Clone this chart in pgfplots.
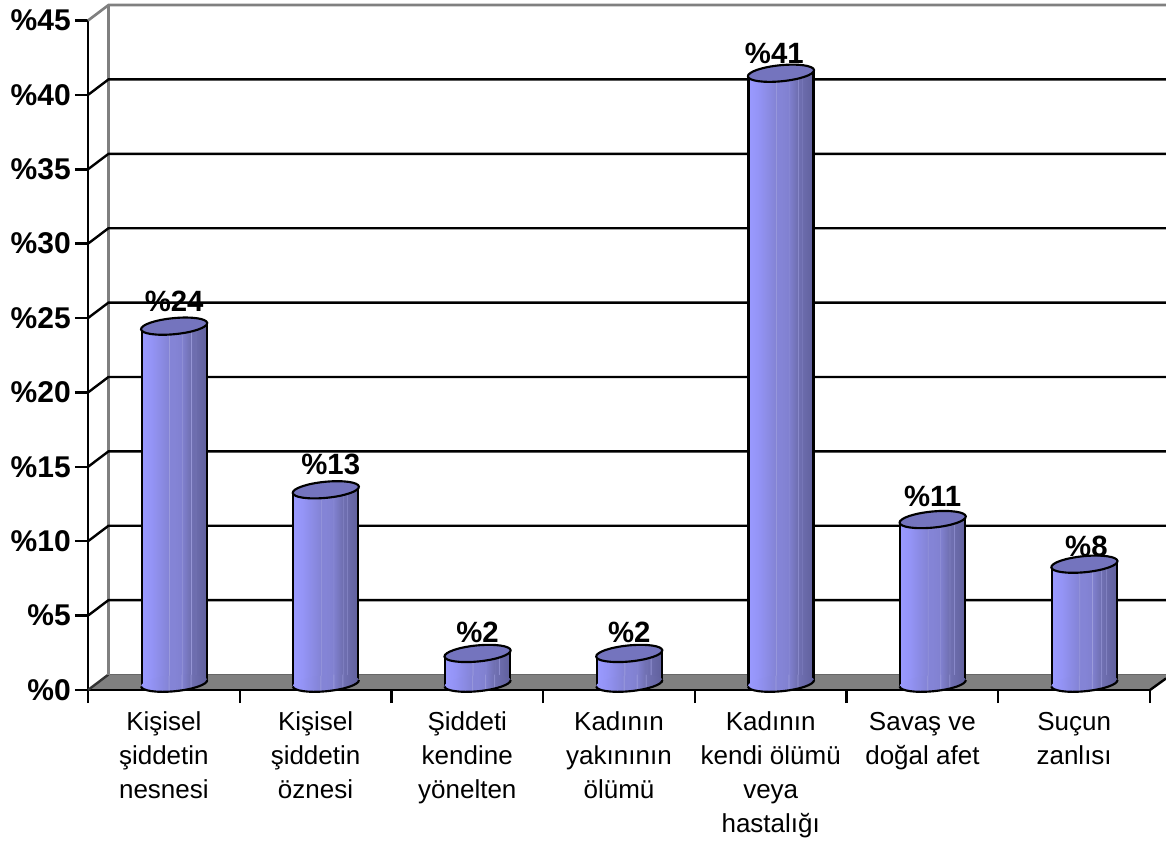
\documentclass[border=0pt]{standalone}
\usepackage{pgfplots}
\usepackage{pgfplotstable}
\usepackage{fontspec}
\setmainfont{Liberation Sans}
\pgfplotsset{compat=1.18}
\definecolor{cA}{HTML}{9A9AFF}
\definecolor{cB}{HTML}{9494F6}
\definecolor{cC}{HTML}{8484D6}
\definecolor{cD}{HTML}{7070B2}
\definecolor{cE}{HTML}{60609C}
\definecolor{cS}{HTML}{9C9CDC}
\definecolor{cap}{HTML}{7474BE}
\definecolor{floorgray}{HTML}{808080}
\pgfdeclarehorizontalshading{barL}{100bp}{color(0bp)=(cA);color(25bp)=(cA);color(40bp)=(cB);color(66bp)=(cC);color(67bp)=(cS);color(68bp)=(cC);color(75bp)=(cC);color(100bp)=(cC)}
\pgfdeclarehorizontalshading{barR}{100bp}{color(0bp)=(cC);color(25bp)=(cC);color(36bp)=(cC!85!cD);color(36.8bp)=(cS);color(37.6bp)=(cC!80!cD);color(50bp)=(cD);color(50.8bp)=(cS);color(51.6bp)=(cD);color(57bp)=(cD!75!cE);color(57.8bp)=(cS!70!cD);color(58.6bp)=(cD!70!cE);color(75bp)=(cE);color(100bp)=(cE)}
\pgfdeclarehorizontalshading{barF}{100bp}{color(0bp)=(cA);color(25bp)=(cA);color(32bp)=(cB);color(45.5bp)=(cC);color(46bp)=(cS);color(46.5bp)=(cC);color(50bp)=(cC);color(55bp)=(cC!85!cD);color(55.5bp)=(cS);color(56bp)=(cC!80!cD);color(62bp)=(cD);color(62.5bp)=(cS);color(63bp)=(cD);color(75bp)=(cE);color(100bp)=(cE)}
\pgfdeclareplotmark{cyltop}{%
  \pgfsetlinewidth{1.6pt}\pgfsetstrokecolor{black}\pgfsetfillcolor{cap}%
  \pgfpathellipse{\pgfpointorigin}{\pgfpoint{24.8pt}{2.4pt}}{\pgfpoint{-0.6pt}{6pt}}%
  \pgfusepath{fill,stroke}}
\pgfdeclareplotmark{cylbottom}{%
  \pgfsetlinewidth{1.6pt}\pgfsetstrokecolor{black}%
  \begin{pgfscope}%
  \pgfpathellipse{\pgfpointorigin}{\pgfpoint{24.8pt}{2.4pt}}{\pgfpoint{-0.6pt}{6pt}}%
  \pgfshadepath{barF}{0}\pgfusepath{discard}%
  \end{pgfscope}%
  \pgfpathmoveto{\pgfpoint{-24.8pt}{-2.4pt}}%
  \pgfpatharcaxes{180}{360}{\pgfpoint{24.8pt}{2.4pt}}{\pgfpoint{-0.6pt}{6pt}}%
  \pgfusepath{stroke}}
\pgfplotstableread{
x y z
0.5 24 0
1.5 13 0
2.5 2 0
3.5 2 0
4.5 41 0
5.5 11 0
6.5 8 0
}\bars
\begin{document}
\begin{tikzpicture}
\path[use as bounding box] (-66pt,-114pt) rectangle ++(874.5pt,631.5pt);
\begin{axis}[
  at={(0,0)},anchor=south west,
  scale only axis,width=796.5pt,height=502.1pt,
  xmin=0,xmax=7,ymin=0,ymax=45,clip=false,
  axis x line=bottom,axis y line=left,
  axis line style={-,line width=1.8pt,black},
  tick style={line width=1.8pt,black},
  tick align=outside,major tick length=9.75pt,
  xtick={0,1,2,3,4,5,6,7},
  x tick label as interval=true,
  xticklabels={{Kişisel\\şiddetin\\nesnesi},{Kişisel\\şiddetin\\öznesi},{Şiddeti\\kendine\\yönelten},{Kadının\\yakınının\\ölümü},{Kadının\\kendi ölümü\\veya\\hastalığı},{Savaş ve\\doğal afet},{Suçun\\zanlısı}},
  x tick label style={align=center,anchor=north,font=\fontsize{19.5}{25.5}\selectfont,yshift=-3.3pt},
  ytick={0,5,10,15,20,25,30,35,40,45},
  yticklabels={\%0,\%5,\%10,\%15,\%20,\%25,\%30,\%35,\%40,\%45},
  y tick label style={font=\fontsize{22.5}{26}\selectfont\bfseries,inner sep=0pt,xshift=-3pt},
]
% floor
\addplot[fill=floorgray,draw=none,forget plot] coordinates {(0,0)(0.135,1.04)(7.106,1.04)(7.106,0.78)(7,0)} -- cycle;
\addplot[floorgray!80!black,line width=1.2pt,forget plot] coordinates {(0.135,1.04)(7.106,1.04)};
\addplot[black,line width=2pt,forget plot] coordinates {(0,0)(7,0)};
\addplot[black,line width=1.8pt,forget plot] coordinates {(7,0)(7.106,0.78)};
\addplot[black!80,line width=1.8pt,forget plot] coordinates {(0,0)(0.135,1.04)};
% back wall
\addplot[floorgray,line width=2pt,forget plot] coordinates {(0,45)(0.135,46.04)(7.106,46.04)};
\addplot[floorgray,line width=2pt,forget plot] coordinates {(0.135,1.04)(0.135,46.04)};
% grid lines
\addplot[black,line width=1.8pt,forget plot] coordinates {(0,5)(0.135,6.04)(7.106,6.04)};
\addplot[black,line width=1.8pt,forget plot] coordinates {(0,10)(0.135,11.04)(7.106,11.04)};
\addplot[black,line width=1.8pt,forget plot] coordinates {(0,15)(0.135,16.04)(7.106,16.04)};
\addplot[black,line width=1.8pt,forget plot] coordinates {(0,20)(0.135,21.04)(7.106,21.04)};
\addplot[black,line width=1.8pt,forget plot] coordinates {(0,25)(0.135,26.04)(7.106,26.04)};
\addplot[black,line width=1.8pt,forget plot] coordinates {(0,30)(0.135,31.04)(7.106,31.04)};
\addplot[black,line width=1.8pt,forget plot] coordinates {(0,35)(0.135,36.04)(7.106,36.04)};
\addplot[black,line width=1.8pt,forget plot] coordinates {(0,40)(0.135,41.04)(7.106,41.04)};
% cylinder bodies: one plot per bar so that each bar has its own shading
\pgfplotsinvokeforeach{0.5,1.5,2.5,3.5,4.5,5.5,6.5}{
\addplot[ybar,bar width=24.6pt,bar shift=-12.2pt,draw=none,shading=barL,xshift=7.7pt,yshift=2.7pt,forget plot,
  x filter/.expression={abs(x-#1)<0.1 ? x : nan}] table[x=x,y=y] {\bars};
\addplot[ybar,bar width=24.6pt,bar shift=12.2pt,draw=none,shading=barR,xshift=7.7pt,yshift=7.5pt,forget plot,
  x filter/.expression={abs(x-#1)<0.1 ? x : nan}] table[x=x,y=y] {\bars};
}
\addplot[only marks,mark=cylbottom,xshift=7.7pt,yshift=5.1pt,forget plot] table[x=x,y=z] {\bars};
\addplot[ycomb,black,line width=1.6pt,no markers,xshift=-16.7pt,yshift=2.7pt,forget plot] table[x=x,y=y] {\bars};
\addplot[ycomb,black,line width=1.6pt,no markers,xshift=32.1pt,yshift=7.5pt,forget plot] table[x=x,y=y] {\bars};
\addplot[only marks,mark=cyltop,xshift=7.7pt,yshift=5.1pt,forget plot,
  nodes near coords={\%\pgfplotspointmeta},
  every node near coord/.style={anchor=center,yshift=18.7pt,black,inner sep=0pt,font=\fontsize{22}{26}\selectfont\bfseries},
  coordinate style/.condition={\coordindex==1}{xshift=3.7pt},
  coordinate style/.condition={\coordindex==2}{yshift=-3pt},
  coordinate style/.condition={\coordindex==3}{yshift=-3pt},
  coordinate style/.condition={\coordindex==4}{xshift=-5pt,yshift=-3.7pt},
  coordinate style/.condition={\coordindex==5}{yshift=-1.5pt},
  coordinate style/.condition={\coordindex==6}{xshift=1.5pt,yshift=-5pt},
  point meta=explicit symbolic] table[x=x,y=y,meta=y] {\bars};
\end{axis}
\end{tikzpicture}
\end{document}
